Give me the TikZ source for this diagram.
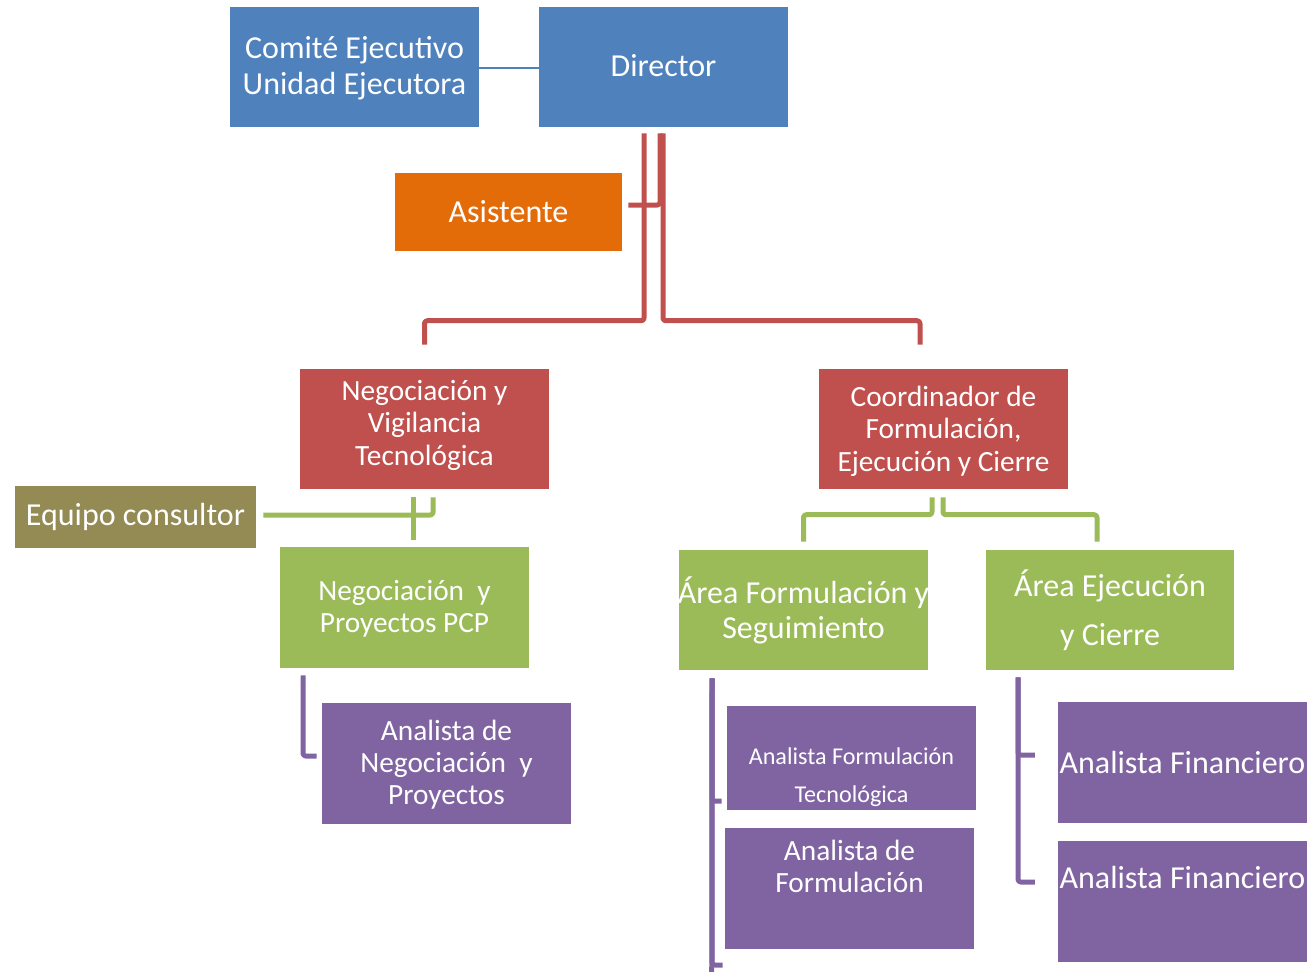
\documentclass[tikz,border=0pt]{standalone}
\usepackage{fontspec}
\setmainfont{Carlito}
\usetikzlibrary{calc}
\definecolor{cblue}{HTML}{4F81BD}
\definecolor{cred}{HTML}{C0504D}
\definecolor{cgreen}{HTML}{9BBB59}
\definecolor{cpurple}{HTML}{8064A2}
\definecolor{corange}{HTML}{E36C09}
\definecolor{colive}{HTML}{948A54}
\tikzset{
  box/.style={draw=none, rectangle, inner sep=0pt},
  sz/.style 2 args={minimum width=#1*0.75pt, minimum height=#2*0.75pt},
  txt/.style={text=white, align=center, inner sep=0pt},
  fnt/.style={font=\fontsize{24}{#1}\selectfont},
  fns/.style={font=\fontsize{22}{#1}\selectfont},
  conn/.style={line width=3.75pt, line join=round, rounded corners=2pt},
  redc/.style={conn, draw=cred},
  greenc/.style={conn, draw=cgreen},
  purc/.style={conn, draw=cpurple},
}
\begin{document}
\begin{tikzpicture}[x=0.75pt, y=-0.75pt]
\useasboundingbox (0,0) rectangle (1312,971);

% boxes
\node[box, fill=cblue, sz={249}{120}] (com) at (354.5,67) {};
\node[box, fill=cblue, sz={249}{120}] (dir) at (663.5,67) {};
\node[box, fill=corange, sz={227}{78}] (asis) at (508.5,212) {};
\node[box, fill=cred, sz={249}{120}] (neg) at (424.5,429) {};
\node[box, fill=cred, sz={249}{120}] (coord) at (943.5,429) {};
\node[box, fill=colive, sz={241}{62}] (equipo) at (135.5,517) {};
\node[box, fill=cgreen, sz={249}{121}] (pcp) at (404.5,607.5) {};
\node[box, fill=cgreen, sz={249}{120}] (aform) at (803.5,610) {};
\node[box, fill=cgreen, sz={248}{120}] (aejec) at (1110,610) {};
\node[box, fill=cpurple, sz={249}{121}] (anneg) at (446.5,763.5) {};
\node[box, fill=cpurple, sz={249}{104}] (aft) at (851.5,758) {};
\node[box, fill=cpurple, sz={249}{121}] (adf) at (849.5,888.5) {};
\node[box, fill=cpurple, sz={249}{121}] (afin1) at (1182.5,762.5) {};
\node[box, fill=cpurple, sz={249}{121}] (afin2) at (1182.5,901.5) {};

% labels
\node[txt, fnt=27] (com-t) at (354.5,68) {Comité Ejecutivo\\Unidad Ejecutora};
\node[txt, fnt=27] (dir-t) at (663.5,66) {Director};
\node[txt, fnt=27] (asis-t) at (508.5,212) {Asistente};
\node[txt, fns=24.4] (neg-t) at (424.5,425) {Negociación y\\Vigilancia\\Tecnológica};
\node[txt, fns=24.4] (coord-t) at (943.5,431) {Coordinador de\\Formulación,\\Ejecución y Cierre};
\node[txt, fnt=27] (equipo-t) at (135.5,517) {Equipo consultor};
\node[txt, fns=24] (pcp-t) at (404.5,609) {Negociación\ \ y\\Proyectos PCP};
\node[txt, fnt=26.25] (aform-t) at (803.5,610.5) {Área Formulación y\\Seguimiento};
\node[txt, fnt=36.75] (aejec-t) at (1110,610.5) {Área Ejecución\\y Cierre};
\node[txt, fns=24] (anneg-t) at (446.5,765) {Analista de\\Negociación\ \ y\\Proyectos};
\node[txt, font=\fontsize{18.1}{28.5}\selectfont] (aft-t) at (851.5,777) {Analista Formulación\\Tecnológica};
\node[txt, fns=24] (adf-t) at (849.5,866) {Analista de\\Formulación};
\node[txt, fnt=27] (afin1-t) at (1182.5,762) {Analista Financiero};
\node[txt, fnt=27] (afin2-t) at (1182.5,877) {Analista Financiero};

% committee to director
\draw[cblue, line width=1.5pt] ($(com.east)+(0,1)$) -- ($(dir.west)+(0,1)$);

% director to assistant and coordinators
\draw[redc] ($(dir.south)+(-3.5,6)$) |- ($(asis.east)+(6,-7)$);
\draw[redc] ($(dir.south)+(-19.5,6)$) |- ($(neg.north)+(0,-48)$) -- ($(neg.north)+(0,-24)$);
\draw[redc] ($(dir.south)+(-0.5,6)$) |- ($(coord.north)+(-23.5,-48)$) -- ($(coord.north)+(-23.5,-24)$);

% second level
\draw[greenc] ($(neg.south)+(8.5,8)$) |- ($(equipo.east)+(7,-2)$);
\draw[greenc] ($(neg.south)+(-11.5,8)$) -- ($(pcp.north)+(8.5,-7)$);
\draw[greenc] ($(coord.south)+(-11.5,8)$) |- ($(aform.north)+(0,-35)$) -- ($(aform.north)+(0,-8)$);
\draw[greenc] ($(coord.south)+(-0.5,8)$) |- ($(aejec.north)+(-13,-35)$) -- ($(aejec.north)+(-13,-8)$);

% analysts
\draw[purc] ($(pcp.south)+(-101.5,7)$) |- ($(anneg.west)+(-5,-7.5)$);
\draw[purc] ($(aform.south)+(-91.5,8)$) -- ($(adf.west)+(-13,84)$);
\draw[purc] ($(aform.south)+(-91.5,8)$) |- ($(aft.west)+(-5,43)$);
\draw[purc] ($(aform.south)+(-91.5,8)$) |- ($(adf.west)+(-2,76.5)$);
\draw[purc] ($(aejec.south)+(-92,7)$) |- ($(afin1.west)+(-23,-7.5)$);
\draw[purc] ($(aejec.south)+(-92,7)$) |- ($(afin2.west)+(-23,-19.5)$);
\end{tikzpicture}
\end{document}
